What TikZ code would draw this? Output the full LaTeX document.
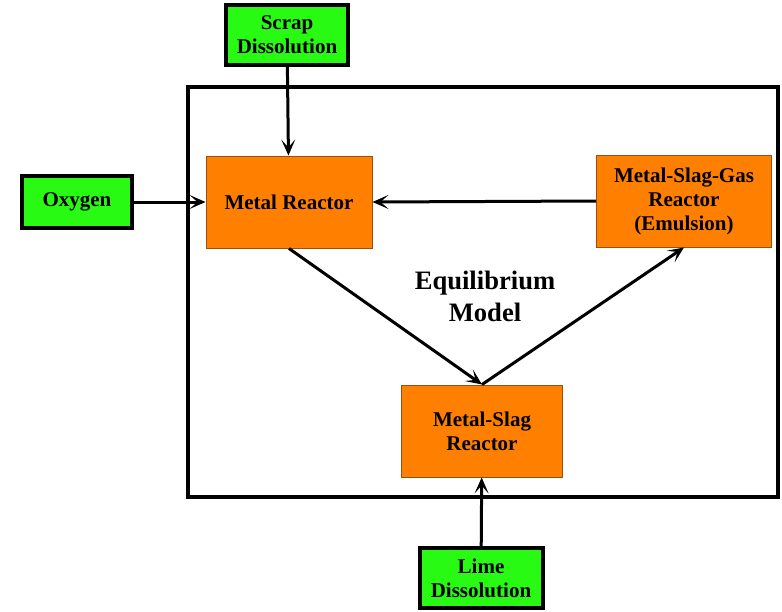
\documentclass[tikz,border=0pt]{standalone}
\usepackage{fontspec}
\setmainfont{Liberation Serif}
\usetikzlibrary{arrows.meta}
\definecolor{feedgreen}{RGB}{40,250,20}
\definecolor{reactororange}{RGB}{255,128,0}
\definecolor{reactoredge}{RGB}{150,80,20}

\begin{document}
\begin{tikzpicture}[x=0.5pt,y=-0.5pt,
	feed/.style={draw=black,line width=2pt,fill=feedgreen,align=center,inner sep=0pt,
		font=\fontsize{10.5}{12}\selectfont\bfseries},
	reactor/.style={draw=reactoredge,line width=0.5pt,fill=reactororange,align=center,inner sep=0pt,
		minimum height=46pt,font=\fontsize{10.5}{12}\selectfont\bfseries},
	flow/.style={line width=1.5pt,-{Stealth[length=8pt,width=7pt,inset=4pt]}}]
	\useasboundingbox (0,0) rectangle (782,611);
	%equilibrium frame
		\draw[line width=2pt] (188,87) rectangle (778,497);
		\node[font=\fontsize{13.3}{16}\selectfont\bfseries,align=center] (eqm) at (485,296) {Equilibrium\\Model};
	%reactors
		\node[reactor,minimum width=83pt] (mr) at (289,202) {Metal Reactor};
		\node[reactor,minimum width=87.5pt] (msg) at (684,201) {Metal-Slag-Gas\\Reactor\\(Emulsion)};
		\node[reactor,minimum width=80.5pt] (ms) at (482,431) {Metal-Slag\\Reactor};
	%feeds
		\node[feed,minimum width=61pt,minimum height=30pt] (scrap) at (287,35) {Scrap\\Dissolution};
		\node[feed,minimum width=55pt,minimum height=26pt] (oxy) at (77,202) {Oxygen};
		\node[feed,minimum width=61.5pt,minimum height=30pt] (lime) at (481,578) {Lime\\Dissolution};
	%flows
		\draw[flow] (scrap) -- (mr);
		\draw[flow] (oxy) -- (mr);
		\draw[flow] (msg.west) -- (mr.east);
		\draw[flow] (mr.south) -- (ms.north);
		\draw[flow] (ms.north) -- (msg.south);
		\draw[flow] (lime) -- (ms);
\end{tikzpicture}
\end{document}
